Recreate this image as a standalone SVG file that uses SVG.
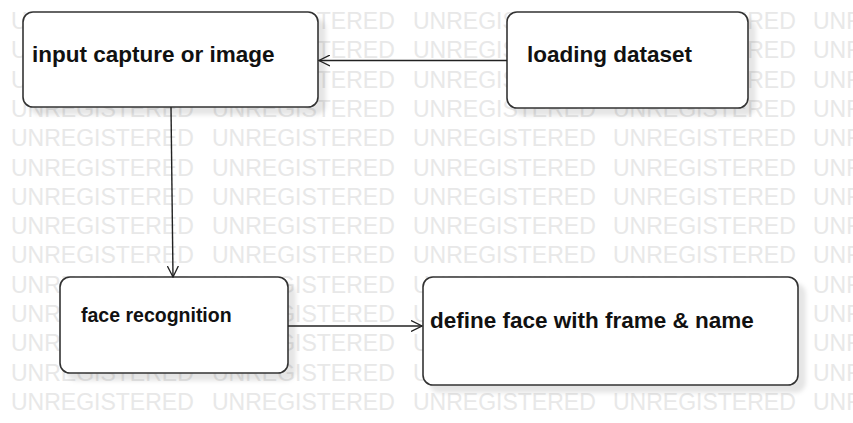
<svg xmlns="http://www.w3.org/2000/svg" width="853" height="423" viewBox="0 0 853 423">
<style>
.wm{font-family:"Liberation Sans",Arial,sans-serif;font-size:23px;fill:#e8e8e8}
.box{fill:#fff;stroke:#333;stroke-width:1.6;filter:url(#sh)}
.lbl{font-family:"Liberation Sans",Arial,sans-serif;font-weight:bold;font-size:22.5px;fill:#111}
.edge{stroke:#222;stroke-width:1.4;fill:none;marker-end:url(#arr)}
</style>
<defs>
<filter id="sh" x="-10%" y="-10%" width="130%" height="140%">
<feDropShadow dx="7" dy="7" stdDeviation="2" flood-color="#000" flood-opacity="0.1"/>
</filter>
<marker id="arr" viewBox="0 0 12 12" refX="11" refY="6" markerWidth="12" markerHeight="12" markerUnits="userSpaceOnUse" orient="auto">
<path d="M0,0.5 L11,6 L0,11.5" fill="none" stroke="#222" stroke-width="1.3"/>
</marker>
<text id="wm" class="wm"><tspan x="11">UNREGISTERED</tspan><tspan x="212">UNREGISTERED</tspan><tspan x="413">UNREGISTERED</tspan><tspan x="613">UNREGISTERED</tspan><tspan x="813">UNREGISTERED</tspan></text>
</defs>
<rect width="853" height="423" fill="#fff"/>
<g id="watermark">
<use href="#wm" y="29"/>
<use href="#wm" y="58.3"/>
<use href="#wm" y="87.6"/>
<use href="#wm" y="116.9"/>
<use href="#wm" y="146.2"/>
<use href="#wm" y="175.5"/>
<use href="#wm" y="204.8"/>
<use href="#wm" y="234.1"/>
<use href="#wm" y="263.4"/>
<use href="#wm" y="292.7"/>
<use href="#wm" y="322"/>
<use href="#wm" y="351.3"/>
<use href="#wm" y="380.6"/>
<use href="#wm" y="409.9"/>
</g>
<g id="node-input">
<rect class="box" x="23" y="12" width="295" height="95" rx="10"/>
<text class="lbl" x="32" y="62">input capture or image</text>
</g>
<g id="node-loading">
<rect class="box" x="507" y="12" width="241" height="96" rx="10"/>
<text class="lbl" x="527" y="62">loading dataset</text>
</g>
<g id="node-face">
<rect class="box" x="60" y="277" width="228" height="96" rx="10"/>
<text class="lbl" x="81" y="322" style="font-size:19.5px">face recognition</text>
</g>
<g id="node-define">
<rect class="box" x="423" y="277" width="375" height="108" rx="10"/>
<text class="lbl" x="430" y="328">define face with frame &amp; name</text>
</g>
<g id="connectors">
<line class="edge" x1="507" y1="60.5" x2="319" y2="60.5"/>
<line class="edge" x1="171" y1="107" x2="173" y2="277"/>
<line class="edge" x1="288" y1="326" x2="422" y2="326"/>
</g>
</svg>
